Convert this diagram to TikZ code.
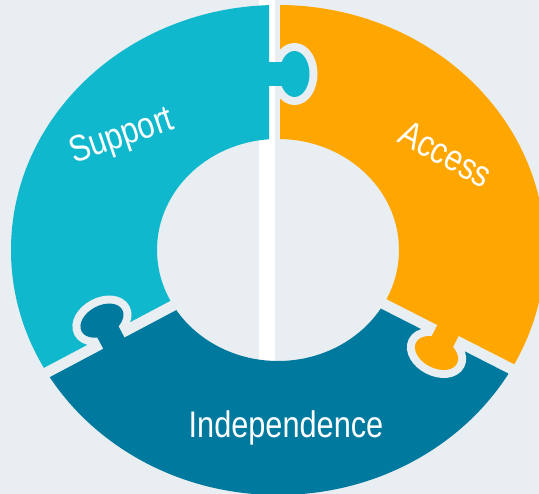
\documentclass[tikz,border=0pt]{standalone}
\usepackage{fontspec}
\newfontfamily\piecefont{Liberation Sans}[FakeStretch=0.83]
\definecolor{ringbg}{RGB}{232,238,241}
\definecolor{supportcol}{RGB}{16,184,205}
\definecolor{accesscol}{RGB}{255,166,0}
\definecolor{indepcol}{RGB}{0,121,159}

\begin{document}
\begin{tikzpicture}[x=1pt,y=1pt,
	piece label/.style={text=white,font=\piecefont\fontsize{37}{40}\selectfont,anchor=base,inner sep=0pt},
	knob line/.style={ringbg,line width=16pt}]
			\fill[ringbg] (0,0) rectangle (539,494);
			\useasboundingbox (0,0) rectangle (539,494);
			\fill[white] (259,0) rectangle (275,494);
			\begin{scope}
				\clip (269,600) -- (269,245.45) -- (-166,14.9) -- (-166,600) -- cycle;
				\fill[supportcol,even odd rule] (278,244) ellipse [x radius=267,y radius=245] (278,244) ellipse [x radius=121,y radius=111];
			\end{scope}
			\begin{scope}
				\clip (280,600) -- (280,249.15) -- (726,21.9) -- (726,600) -- cycle;
				\fill[accesscol,even odd rule] (278,244) ellipse [x radius=267,y radius=245] (278,244) ellipse [x radius=121,y radius=111];
			\end{scope}
			\begin{scope}
				\clip (278,237.8) -- (-161,5.1) -- (-161,-200) -- (726,-200) -- (721,12.1) -- cycle;
				\fill[indepcol,even odd rule] (278,244) ellipse [x radius=267,y radius=245] (278,244) ellipse [x radius=121,y radius=111];
			\end{scope}
			\begin{scope}[shift={(274.5,420)}]
				\begin{scope}
					\clip (0.5,-40) rectangle (60,40);
					\draw[knob line] (20,0) ellipse [x radius=15,y radius=23];
				\end{scope}
				\fill[supportcol] (20,0) ellipse [x radius=15,y radius=23];
				\fill[supportcol] (-8,-12) rectangle (8,12);
			\end{scope}
			\begin{scope}[shift={(111.3,155.7)},rotate=117.9]
				\begin{scope}
					\clip (0.5,-40) rectangle (60,40);
					\draw[knob line] (20,0) ellipse [x radius=15,y radius=23];
				\end{scope}
				\fill[indepcol] (20,0) ellipse [x radius=15,y radius=23];
				\fill[indepcol] (-8,-12) rectangle (8,12);
			\end{scope}
			\begin{scope}[shift={(445.6,158.8)},rotate=243]
				\begin{scope}
					\clip (0.5,-40) rectangle (60,40);
					\draw[knob line] (20,0) ellipse [x radius=15,y radius=23];
				\end{scope}
				\fill[accesscol] (20,0) ellipse [x radius=15,y radius=23];
				\fill[accesscol] (-8,-12) rectangle (8,12);
			\end{scope}
			\node[piece label,rotate=19] (support) at (125,348) {Support};
			\node[piece label,rotate=-28] (access) at (439.7,328.8) {Access};
			\node[piece label] (indep) at (286,56.7) {Independence};
		\end{tikzpicture}
\end{document}
